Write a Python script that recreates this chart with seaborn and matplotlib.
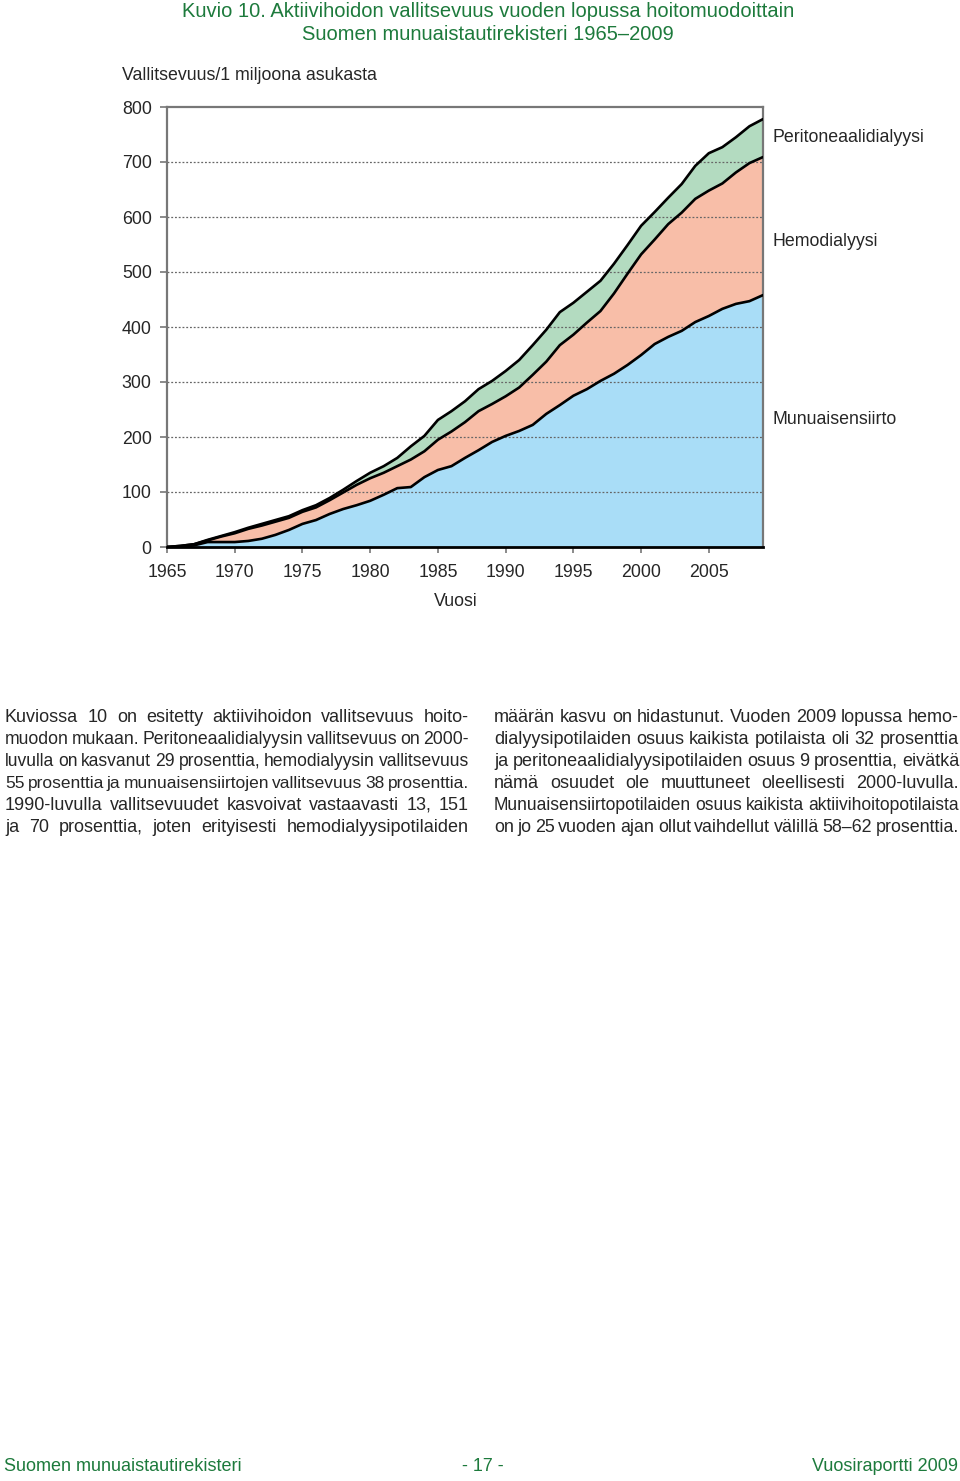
import numpy as np
import pandas as pd
import matplotlib
matplotlib.use("Agg")
import matplotlib.pyplot as plt
import seaborn as sns

# --- data ---
years = list(range(1965, 2010))
transplant = [0, 0, 3, 9, 9, 9, 11, 15, 22, 31, 42, 49, 60, 69, 76, 84, 95, 107, 109, 127,
              140, 147, 162, 176, 191, 202, 211, 222, 242, 258, 275, 287, 302, 315, 331,
              349, 369, 382, 393, 409, 420, 433, 442, 447, 458]
hemodialysis = [0, 2, 2, 3, 10, 16, 22, 24, 24, 22, 22, 23, 25, 30, 37, 41, 40, 40, 50, 47,
                55, 63, 65, 71, 69, 72, 79, 91, 95, 109, 111, 121, 127, 146, 166,
                183, 190, 205, 215, 224, 228, 228, 239, 251, 251]
peritoneal = [0, 0, 0, 1, 1, 2, 2, 3, 3, 3, 3, 4, 4, 5, 7, 10, 12, 15, 24, 28,
              36, 37, 38, 40, 42, 46, 50, 54, 58, 60, 58, 56, 55, 54, 52,
              52, 50, 48, 52, 60, 68, 66, 64, 67, 69]
y_ticks = [0, 100, 200, 300, 400, 500, 600, 700, 800]
x_ticks = [1965, 1970, 1975, 1980, 1985, 1990, 1995, 2000, 2005]
series_labels = ["Peritoneaalidialyysi", "Hemodialyysi", "Munuaisensiirto"]

left_lines = [
    "Kuviossa 10 on esitetty aktiivihoidon vallitsevuus hoito-",
    "muodon mukaan. Peritoneaalidialyysin vallitsevuus on 2000-",
    "luvulla on kasvanut 29 prosenttia, hemodialyysin vallitsevuus",
    "55 prosenttia ja munuaisensiirtojen vallitsevuus 38 prosenttia.",
    "1990-luvulla vallitsevuudet kasvoivat vastaavasti  13, 151",
    "ja 70 prosenttia, joten erityisesti hemodialyysipotilaiden",
]
right_lines = [
    "määrän kasvu on hidastunut. Vuoden 2009 lopussa hemo-",
    "dialyysipotilaiden osuus kaikista potilaista oli 32 prosenttia",
    "ja peritoneaalidialyysipotilaiden osuus 9 prosenttia, eivätkä",
    "nämä osuudet ole muuttuneet oleellisesti 2000-luvulla.",
    "Munuaisensiirtopotilaiden osuus kaikista aktiivihoitopotilaista",
    "on jo 25 vuoden ajan ollut vaihdellut välillä 58–62 prosenttia.",
]

W, H = 960, 1481
green_txt = "#1d7a3c"
blue = "#a9ddf7"
salmon = "#f8bea8"
green = "#b3dbc0"

sns.set_style("white")
plt.rcParams['font.family'] = ['Liberation Sans', 'DejaVu Sans']

fig = plt.figure(figsize=(W / 100, H / 100), dpi=100)


def fx(px):
    return px / W


def fy(py):
    return 1 - py / H


ax = fig.add_axes([fx(167), fy(547), 596 / W, 440 / H])

df = pd.DataFrame({"Vuosi": years, "Munuaisensiirto": transplant,
                   "Hemodialyysi": hemodialysis, "Peritoneaalidialyysi": peritoneal})
df["hd_top"] = df["Munuaisensiirto"] + df["Hemodialyysi"]
df["pd_top"] = df["hd_top"] + df["Peritoneaalidialyysi"]

ax.fill_between(df["Vuosi"], 0, df["Munuaisensiirto"], color=blue, lw=0, zorder=1)
ax.fill_between(df["Vuosi"], df["Munuaisensiirto"], df["hd_top"], color=salmon, lw=0, zorder=1)
ax.fill_between(df["Vuosi"], df["hd_top"], df["pd_top"], color=green, lw=0, zorder=1)

for yv in y_ticks[1:-1]:
    ax.axhline(yv, color="#666666", ls=(0, (1.5, 1.5)), lw=0.9, zorder=2)

for col in ["Munuaisensiirto", "hd_top", "pd_top"]:
    sns.lineplot(data=df, x="Vuosi", y=col, ax=ax, color="black", lw=1.9, zorder=3)

ax.set_xlim(1965, 2009)
ax.set_ylim(0, 800)
ax.set_xlabel("")
ax.set_ylabel("")
ax.set_yticks(y_ticks)
ax.set_xticks(x_ticks)
ax.tick_params(axis="y", direction="out", length=5, width=1.2, color="#777777",
               labelsize=12.8, pad=6, left=True)
ax.tick_params(axis="x", direction="out", length=4.5, width=1.2, color="#777777",
               labelsize=12.8, pad=8, bottom=True)
for s in ["left", "top", "right"]:
    ax.spines[s].set_color("#777777")
    ax.spines[s].set_linewidth(1.6)
ax.spines["bottom"].set_color("black")
ax.spines["bottom"].set_linewidth(2.0)
ax.spines["bottom"].set_zorder(4)

# titles and labels
fig.text(fx(488), fy(17), "Kuvio 10. Aktiivihoidon vallitsevuus vuoden lopussa hoitomuodoittain",
         ha="center", va="baseline", fontsize=14.5, color=green_txt)
fig.text(fx(488), fy(40), "Suomen munuaistautirekisteri 1965–2009",
         ha="center", va="baseline", fontsize=14.5, color=green_txt)
fig.text(fx(122), fy(76), "Vallitsevuus/1 miljoona asukasta", ha="left", va="center", fontsize=12.8)
fig.text(fx(456), fy(601), "Vuosi", ha="center", va="center", fontsize=12.8)
for lab, ypx in zip(series_labels, [138, 242, 420]):
    fig.text(fx(772), fy(ypx), lab, ha="left", va="center", fontsize=12.8)

# justified body text
renderer = fig.canvas.get_renderer()


def justified(line, x0, x1, ybase, size):
    words = line.split()
    texts = [fig.text(0, 0, w, fontsize=size, va="baseline", ha="left") for w in words]
    widths = [t.get_window_extent(renderer).width for t in texts]
    avail = x1 - x0
    if sum(widths) + 3.5 * (len(words) - 1) > avail:
        scale = (avail - 3.5 * (len(words) - 1)) / sum(widths)
        for t in texts:
            t.set_fontsize(size * scale)
        widths = [t.get_window_extent(renderer).width for t in texts]
    gap = (avail - sum(widths)) / (len(words) - 1)
    x = x0
    for t, w in zip(texts, widths):
        t.set_position((fx(x), fy(ybase)))
        x += w + gap


baselines = [722, 744, 766, 788, 810, 832]
for line, yb in zip(left_lines, baselines):
    justified(line, 5, 469, yb, 13)
for line, yb in zip(right_lines, baselines):
    justified(line, 494, 959, yb, 13)

# footer
fig.text(fx(4), fy(1471), "Suomen munuaistautirekisteri", ha="left", va="baseline",
         fontsize=13, color=green_txt)
fig.text(fx(483), fy(1471), "- 17 -", ha="center", va="baseline",
         fontsize=13, color=green_txt)
fig.text(fx(958), fy(1471), "Vuosiraportti 2009", ha="right", va="baseline",
         fontsize=13, color=green_txt)

fig.savefig("out.png", dpi=100)
